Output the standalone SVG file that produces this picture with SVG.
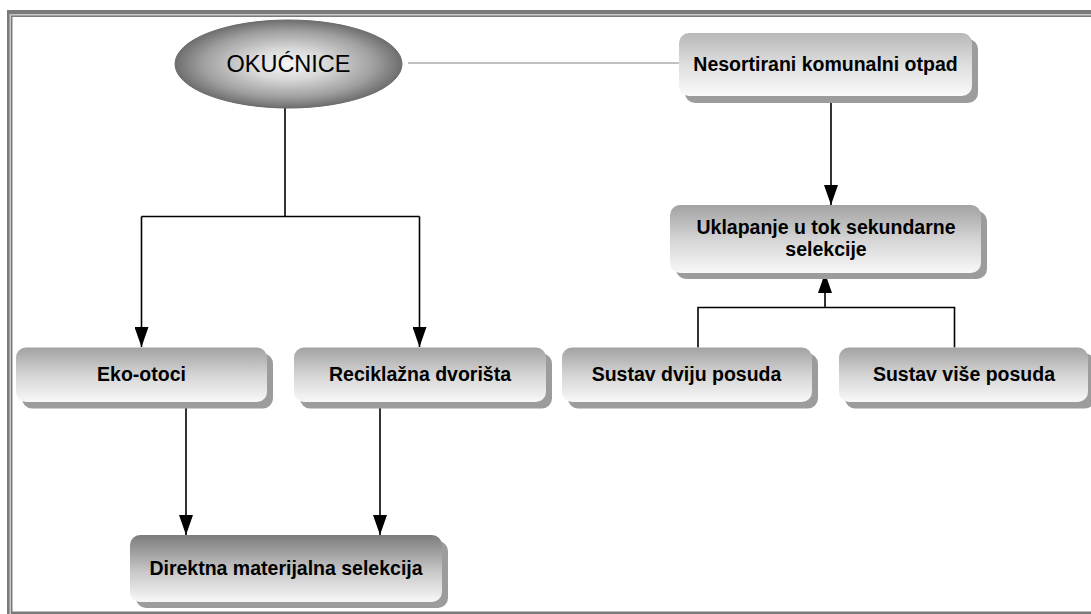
<svg xmlns="http://www.w3.org/2000/svg" width="1091" height="614" viewBox="0 0 1091 614">
<defs>
<style>
.box{fill:url(#bg)}
.dark{fill:url(#bgd)}
.sh{fill:#9c9c9c}
.lbl{font-family:"Liberation Sans",Arial,sans-serif;font-weight:bold;font-size:19.5px;fill:#000;text-anchor:middle}
.conn{fill:none;stroke:#000;stroke-width:1.6}
</style>
<linearGradient id="bg" x1="0" y1="0" x2="0" y2="1">
<stop offset="0" stop-color="#a2a2a2"/>
<stop offset="0.5" stop-color="#d4d4d4"/>
<stop offset="1" stop-color="#f8f8f8"/>
</linearGradient>
<linearGradient id="bgd" x1="0" y1="0" x2="0" y2="1">
<stop offset="0" stop-color="#7c7c7c"/>
<stop offset="0.55" stop-color="#c8c8c8"/>
<stop offset="1" stop-color="#f8f8f8"/>
</linearGradient>
<linearGradient id="bgl" x1="0" y1="0" x2="0" y2="1">
<stop offset="0" stop-color="#b8b8b8"/>
<stop offset="0.5" stop-color="#dedede"/>
<stop offset="1" stop-color="#fafafa"/>
</linearGradient>
<radialGradient id="eg" cx="0.5" cy="0.5" r="0.5">
<stop offset="0" stop-color="#f6f6f6"/>
<stop offset="0.35" stop-color="#d8d8d8"/>
<stop offset="0.75" stop-color="#a0a0a0"/>
<stop offset="1" stop-color="#6e6e6e"/>
</radialGradient>
<marker id="ad" markerUnits="userSpaceOnUse" markerWidth="20" markerHeight="14" viewBox="0 0 20 14" refX="20" refY="7" orient="auto">
<path d="M0,0 L20,7 L0,14 Z" fill="#000"/>
</marker>
</defs>

<g id="frame">
<rect x="7" y="10" width="1100" height="620" fill="#7a7a7a"/>
<rect x="9.5" y="14" width="1100" height="620" fill="#c8c8c8"/>
<rect x="11" y="15.5" width="1100" height="620" fill="#7a7a7a"/>
<rect x="12.5" y="17" width="1100" height="594.5" fill="#fff"/>
</g>

<g id="connectors">
<line x1="408" y1="63" x2="679" y2="63" stroke="#808080" stroke-width="1"/>
<path class="conn" d="M285,108 V216.5 M141.5,216.5 H419.5" />
<path class="conn" d="M141.5,216.5 V347" marker-end="url(#ad)"/>
<path class="conn" d="M419.5,216.5 V347" marker-end="url(#ad)"/>
<path class="conn" d="M186,402 V535" marker-end="url(#ad)"/>
<path class="conn" d="M380,402 V535" marker-end="url(#ad)"/>
<path class="conn" d="M831,96 V205" marker-end="url(#ad)"/>
<path class="conn" d="M698,347.5 V307.5 H954.5 V347.5" />
<path class="conn" d="M825,307.5 V273" marker-end="url(#ad)"/>
</g>

<g id="okucnice">
<ellipse cx="288.5" cy="64" rx="113.5" ry="44" fill="url(#eg)" stroke="#6a6a6a" stroke-width="1"/>
<text x="288.5" y="72" text-anchor="middle" font-family="'Liberation Sans',Arial,sans-serif" font-size="23.5" fill="#000">OKUĆNICE</text>
</g>

<g id="nesortirani">
<rect class="sh" x="685" y="39" width="293" height="64" rx="10"/>
<rect x="679" y="33" width="293" height="63" rx="10" fill="url(#bgl)"/>
<text class="lbl" x="825.5" y="71">Nesortirani komunalni otpad</text>
</g>

<g id="uklapanje">
<rect class="sh" x="676" y="211" width="311" height="68" rx="10"/>
<rect class="box" x="670" y="205" width="311" height="68" rx="10"/>
<text class="lbl" x="826" y="234">Uklapanje u tok sekundarne</text>
<text class="lbl" x="826" y="256">selekcije</text>
</g>

<g id="eko-otoci">
<rect class="sh" x="22" y="353.5" width="251" height="55" rx="10"/>
<rect class="box" x="16" y="347.5" width="251" height="54.5" rx="10"/>
<text class="lbl" x="141.5" y="380.5">Eko-otoci</text>
</g>

<g id="reciklazna">
<rect class="sh" x="300" y="353.5" width="252" height="55" rx="10"/>
<rect class="box" x="294" y="347.5" width="252" height="54.5" rx="10"/>
<text class="lbl" x="420" y="380.5">Reciklažna dvorišta</text>
</g>

<g id="sustav-dviju">
<rect class="sh" x="568" y="353.5" width="250" height="55" rx="10"/>
<rect class="box" x="562" y="347.5" width="250" height="54.5" rx="10"/>
<text class="lbl" x="686.5" y="380.5">Sustav dviju posuda</text>
</g>

<g id="sustav-vise">
<rect class="sh" x="845" y="353.5" width="250" height="55" rx="10"/>
<rect class="box" x="839" y="347.5" width="249" height="54.5" rx="10"/>
<text class="lbl" x="964" y="380.5">Sustav više posuda</text>
</g>

<g id="direktna">
<rect class="sh" x="136" y="541" width="312" height="67" rx="10"/>
<rect class="dark" x="130" y="535" width="312" height="67" rx="10"/>
<text class="lbl" x="286" y="574.5">Direktna materijalna selekcija</text>
</g>
</svg>
